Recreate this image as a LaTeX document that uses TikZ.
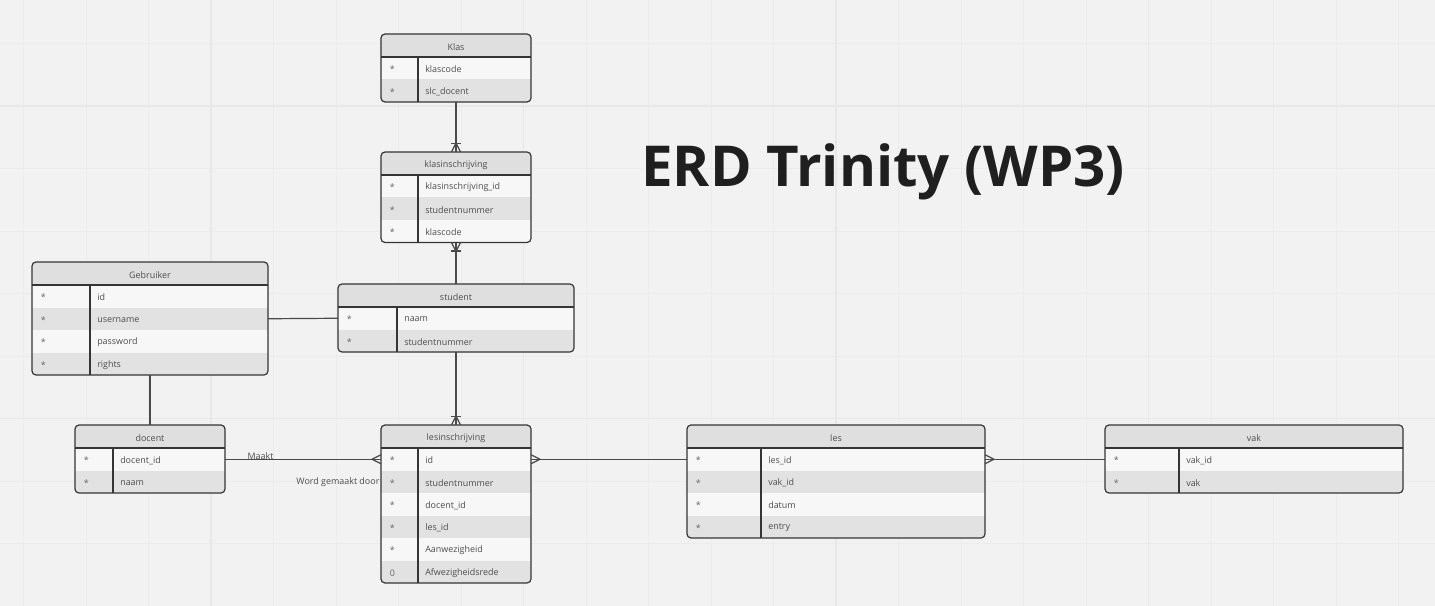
\documentclass[tikz,border=0pt]{standalone}
\usepackage{fontspec}
\setmainfont{Open Sans}
\usetikzlibrary{positioning}

\definecolor{canvas}{HTML}{F2F2F2}
\definecolor{gridminor}{HTML}{ECECEC}
\definecolor{gridmajor}{HTML}{E8E8E8}
\definecolor{headgray}{HTML}{DFDFDF}
\definecolor{rowlight}{HTML}{F7F7F7}
\definecolor{rowdark}{HTML}{E2E2E2}
\definecolor{edgegray}{HTML}{353535}
\definecolor{wiregray}{HTML}{4A4A4A}
\definecolor{textgray}{HTML}{4D4D4D}

\tikzset{
  tabshape/.style={rectangle, anchor=north west, inner sep=0pt, outer sep=0pt},
  tabedge/.style={draw=edgegray, line width=0.9pt},
  headtext/.style={font=\fontsize{6.7}{8}\selectfont, text=textgray, inner sep=0pt, yshift=-0.9pt},
  keytext/.style={font=\fontsize{6.7}{8}\selectfont, text=textgray!85, inner sep=0pt, anchor=west, yshift=-0.9pt},
  fieldtext/.style={font=\fontsize{6.7}{8}\selectfont, text=textgray, inner sep=0pt, anchor=west, yshift=-0.9pt},
  lbl/.style={font=\fontsize{6.7}{8}\selectfont, text=textgray, inner sep=1pt},
  wire/.style={draw=wiregray, line width=0.9pt},
  crowmany/.pic={\draw[wire] (-4.5,0) -- (0,-9) -- (4.5,0);},
  crowone/.pic={\draw[wire] (-4.5,0) -- (0,-9) -- (4.5,0); \draw[wire] (-5,-8.5) -- (5,-8.5);},
}

% #1 name, #2 left, #3 top, #4 width, #5 key column, #6 title, #7 rows
\newcommand{\erdtable}[7]{%
  \foreach \k/\f [count=\rowno] in {#7} {\xdef\nrows{\rowno}}
  \pgfmathsetmacro{\tabh}{23+22.5*\nrows}
  \node[tabshape, minimum width={#4*0.75pt}, minimum height={\tabh*0.75pt}] (#1) at (#2,#3) {};
  \begin{scope}
    \clip[rounded corners=3pt] (#1.north west) rectangle (#1.south east);
    \node[tabshape, fill=headgray, minimum width={#4*0.75pt}, minimum height=17.25pt] (#1-head) at (#2,#3) {};
    \foreach \k/\f [count=\rowno] in {#7} {
      \pgfmathsetmacro{\ry}{#3+23+22.5*(\rowno-1)}
      \ifodd\rowno\relax \def\rowcol{rowlight}\else \def\rowcol{rowdark}\fi
      \node[tabshape, fill=\rowcol, minimum width={#4*0.75pt}, minimum height=16.875pt] (#1-\rowno) at (#2,\ry) {};
      \node[keytext] (#1-\rowno-key) at ([xshift=6.5pt]#1-\rowno.west) {\k};
      \node[fieldtext] (#1-\rowno-field) at ([xshift={(#5+7)*0.75pt}]#1-\rowno.west) {\f};
    }
  \end{scope}
  \node[headtext] (#1-title) at (#1-head) {#6};
  \draw[tabedge] (#1-head.south west) -- (#1-head.south east);
  \draw[tabedge] ([xshift={#5*0.75pt}]#1-head.south west) -- ([xshift={#5*0.75pt}]#1.south west);
  \draw[tabedge, rounded corners=3pt] (#1.north west) rectangle (#1.south east);
}

\begin{document}
\begin{tikzpicture}[x=0.75pt, y=-0.75pt]
    \useasboundingbox (0,0) rectangle (1435,606);

    % Background grid
    \fill[canvas] (0,0) rectangle (1435,606);
    \foreach \gx in {0,...,22} \draw[gridminor, line width=0.75pt] ({23.5+62.5*\gx},0) -- ({23.5+62.5*\gx},606);
    \foreach \gy in {0,...,9} \draw[gridminor, line width=0.75pt] (0,{43.5+62.5*\gy}) -- (1435,{43.5+62.5*\gy});
    \foreach \gx in {211,523.5,836,1148.5} \draw[gridmajor, line width=1.1pt] (\gx,0) -- (\gx,606);
    \foreach \gy in {106,418.5} \draw[gridmajor, line width=1.1pt] (0,\gy) -- (1435,\gy);

    % Title
    \node[anchor=base west, inner sep=0pt, text=black!88, font=\fontsize{42.3}{50}\selectfont\bfseries] (title) at (641,187) {ERD Trinity (WP3)};

    % Draw tables
    \erdtable{klas}{381}{34}{150}{37}{Klas}{*/klascode, */slc\_docent}
    \erdtable{klasinschrijving}{381}{152}{150}{37}{klasinschrijving}{*/klasinschrijving\_id, */studentnummer, */klascode}
    \erdtable{gebruiker}{32}{262}{236}{58}{Gebruiker}{*/id, */username, */password, */rights}
    \erdtable{student}{338}{284}{236}{59}{student}{*/naam, */studentnummer}
    \erdtable{docent}{75}{425}{150}{38}{docent}{*/docent\_id, */naam}
    \erdtable{lesinschrijving}{381}{425}{150}{37}{lesinschrijving}{*/id, */studentnummer, */docent\_id, */les\_id, */Aanwezigheid, 0/Afwezigheidsrede}
    \erdtable{les}{687}{425}{298}{74}{les}{*/les\_id, */vak\_id, */datum, */entry}
    \erdtable{vak}{1105}{425}{298}{74}{vak}{*/vak\_id, */vak}

    % Draw connectors
    \draw[wire] (klas.south) -- (klasinschrijving.north);
    \pic at (klasinschrijving.north) {crowone};
    \draw[wire] (klasinschrijving.south) -- (student.north);
    \pic[rotate=180] at (klasinschrijving.south) {crowone};
    \draw[wire] (gebruiker-2.east) -- (student-1.west);
    \draw[wire] (gebruiker.south) -- (docent.north);
    \draw[wire] (student.south) -- (lesinschrijving.north);
    \pic at (lesinschrijving.north) {crowone};
    \draw[wire] (docent-1.east) -- (lesinschrijving-1.west);
    \pic[rotate=90] at (lesinschrijving-1.west) {crowmany};
    \draw[wire] (lesinschrijving-1.east) -- (les-1.west);
    \pic[rotate=-90] at (lesinschrijving-1.east) {crowmany};
    \draw[wire] (les-1.east) -- (vak-1.west);
    \pic[rotate=-90] at (les-1.east) {crowmany};

    % Connector labels
    \node[lbl, anchor=base west] (maakt) at ([xshift=15.75pt]docent-1.east) {Maakt};
    \node[lbl, anchor=east] (wordgemaakt) at (lesinschrijving-2.west) {Word gemaakt door};
\end{tikzpicture}
\end{document}
